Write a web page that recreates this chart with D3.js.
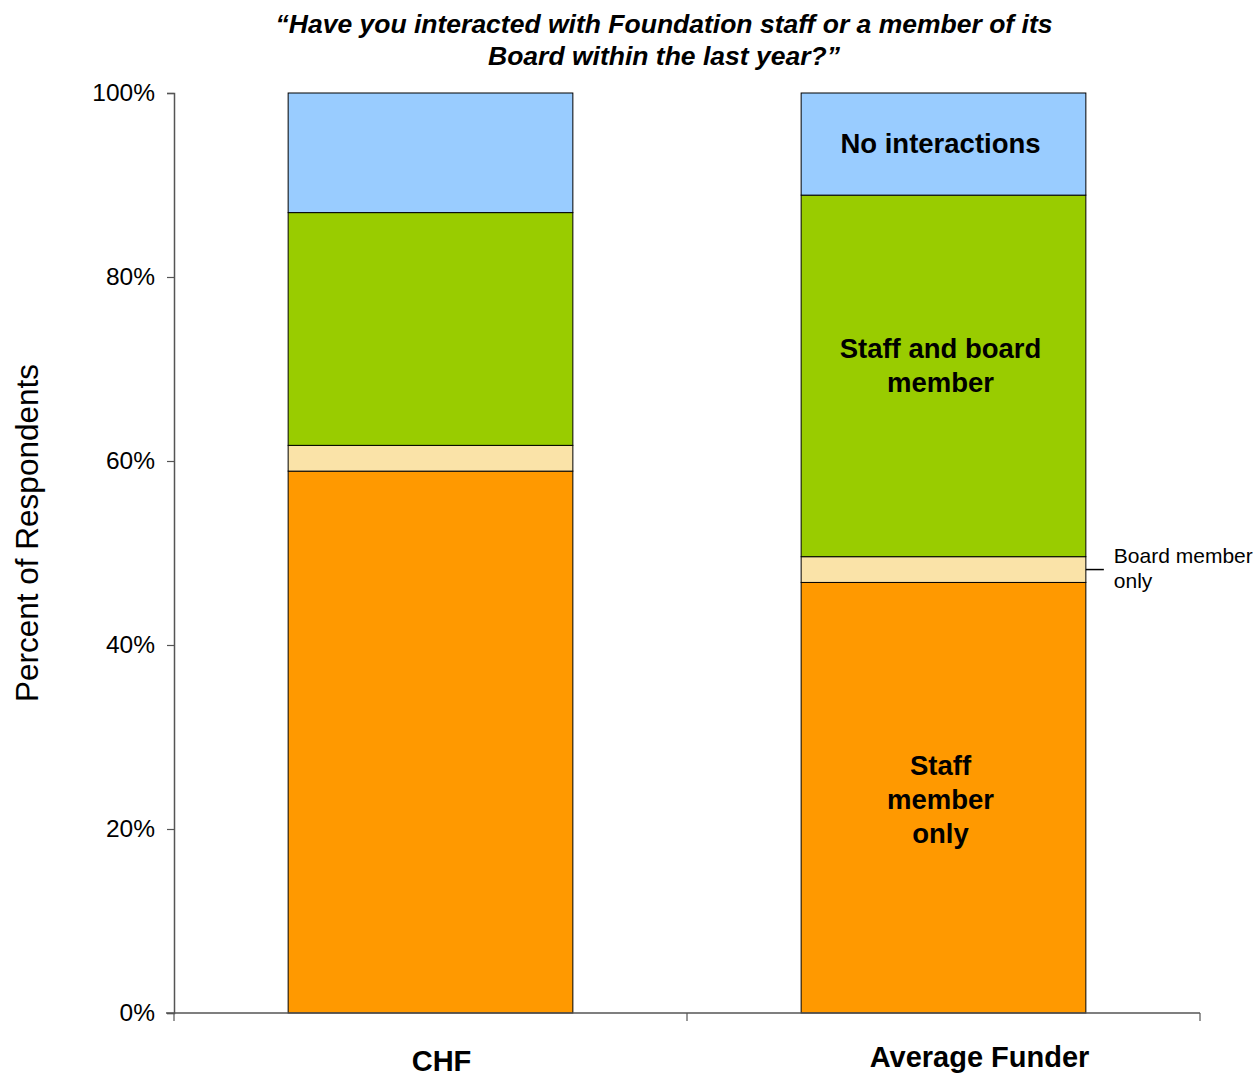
<!DOCTYPE html>
<html>
<head>
<meta charset="utf-8">
<script src="https://cdn.jsdelivr.net/npm/d3@7"></script>
<style>
  html, body { margin: 0; padding: 0; background: #fff; }
  svg { display: block; font-family: "Liberation Sans", Arial, sans-serif; }
</style>
</head>
<body>
<svg id="chart" width="1256" height="1075"></svg>
<script>
// Survey answers, percent of respondents per group
const categories = ["CHF", "Average Funder"];
const seriesNames = ["Staff member only", "Board member only", "Staff and board member", "No interactions"];
const staffOnly = [58.9, 46.8];
const boardOnly = [2.8, 2.8];
const staffAndBoard = [25.3, 39.3];
const noInteractions = [13.0, 11.1];
const tickValues = [0, 20, 40, 60, 80, 100];
const tickLabels = ["0%", "20%", "40%", "60%", "80%", "100%"];
const colors = ["#FF9900", "#FAE3A8", "#99CC00", "#99CCFF"];

const rows = categories.map((c, i) => ({
  category: c,
  [seriesNames[0]]: staffOnly[i],
  [seriesNames[1]]: boardOnly[i],
  [seriesNames[2]]: staffAndBoard[i],
  [seriesNames[3]]: noInteractions[i]
}));

const svg = d3.select("#chart");
const plot = { left: 174, right: 1200, top: 93, bottom: 1013 };

const x = d3.scaleBand().domain(categories).range([plot.left, plot.right]).paddingInner(0.445).paddingOuter(0.2225);
const y = d3.scaleLinear().domain([0, 100]).range([plot.bottom, plot.top]);

const stacked = d3.stack().keys(seriesNames)(rows);

// stacked bars
svg.append("g").selectAll("g")
  .data(stacked)
  .join("g")
  .attr("fill", (d, i) => colors[i])
  .selectAll("rect")
  .data(d => d)
  .join("rect")
  .attr("x", d => x(d.data.category))
  .attr("y", d => y(d[1]))
  .attr("width", x.bandwidth())
  .attr("height", d => y(d[0]) - y(d[1]))
  .attr("stroke", "#000")
  .attr("stroke-width", 1);

// y axis
const yAxis = d3.axisLeft(y).tickValues(tickValues).tickFormat((d, i) => tickLabels[i]).tickSize(7).tickPadding(12);
const gy = svg.append("g").attr("transform", `translate(${plot.left},0)`).call(yAxis);
gy.select(".domain").attr("stroke", "#555").attr("stroke-width", 1.5);
gy.selectAll(".tick line").attr("stroke", "#555").attr("stroke-width", 1.2);
gy.selectAll(".tick text").attr("font-size", 24.5).attr("fill", "#000")
  .attr("font-family", "'Liberation Sans', Arial, sans-serif");

// x axis baseline with tick marks at the band boundaries
const base = svg.append("g");
base.append("line")
  .attr("x1", plot.left - 8).attr("x2", plot.right)
  .attr("y1", plot.bottom).attr("y2", plot.bottom)
  .attr("stroke", "#555").attr("stroke-width", 1.5);
const bounds = [plot.left, (plot.left + plot.right) / 2, plot.right];
base.selectAll("line.tk").data(bounds).join("line").attr("class", "tk")
  .attr("x1", d => d).attr("x2", d => d)
  .attr("y1", plot.bottom).attr("y2", plot.bottom + 8)
  .attr("stroke", "#555").attr("stroke-width", 1.2);

// category labels
const catOffsets = [{ dx: 11, y: 1071 }, { dx: 36, y: 1067 }];
svg.append("g").selectAll("text").data(categories).join("text")
  .attr("x", (d, i) => x(d) + x.bandwidth() / 2 + catOffsets[i].dx)
  .attr("y", (d, i) => catOffsets[i].y)
  .attr("text-anchor", "middle")
  .attr("font-size", 29).attr("font-weight", "bold")
  .text(d => d);

// y axis title
svg.append("text")
  .attr("transform", "translate(38,533) rotate(-90)")
  .attr("text-anchor", "middle")
  .attr("font-size", 31.5)
  .text("Percent of Respondents");

// chart title
const title = svg.append("text").attr("text-anchor", "middle")
  .attr("font-size", 26.5).attr("font-weight", "bold").attr("font-style", "italic");
title.append("tspan").attr("x", 664).attr("y", 33).text("\u201CHave you interacted with Foundation staff or a member of its");
title.append("tspan").attr("x", 664).attr("y", 65).text("Board within the last year?\u201D");

// segment labels on the Average Funder bar
const avgIdx = 1;
const avgCenter = x(categories[avgIdx]) + x.bandwidth() / 2 - 3;
const segLabels = [
  { series: 0, lines: ["Staff", "member", "only"], shift: 2 },
  { series: 2, lines: ["Staff and board", "member"], shift: -10 },
  { series: 3, lines: ["No interactions"], shift: 0 }
];
const lineH = 34;
segLabels.forEach(s => {
  const seg = stacked[s.series][avgIdx];
  const mid = (y(seg[0]) + y(seg[1])) / 2;
  const startY = mid + s.shift - (s.lines.length - 1) * lineH / 2 + 9;
  const t = svg.append("text").attr("text-anchor", "middle")
    .attr("font-size", 27.5).attr("font-weight", "bold");
  s.lines.forEach((ln, k) => {
    t.append("tspan").attr("x", avgCenter).attr("y", startY + k * lineH).text(ln);
  });
});

// callout for the thin board-only segment
const bSeg = stacked[1][avgIdx];
const bMid = (y(bSeg[0]) + y(bSeg[1])) / 2;
const barRight = x(categories[avgIdx]) + x.bandwidth();
svg.append("line")
  .attr("x1", barRight).attr("x2", barRight + 18)
  .attr("y1", bMid).attr("y2", bMid)
  .attr("stroke", "#000").attr("stroke-width", 1.5);
const callout = svg.append("text").attr("font-size", 21);
callout.append("tspan").attr("x", barRight + 28).attr("y", bMid - 7).text("Board member");
callout.append("tspan").attr("x", barRight + 28).attr("y", bMid + 18).text("only");
</script>
</body>
</html>
